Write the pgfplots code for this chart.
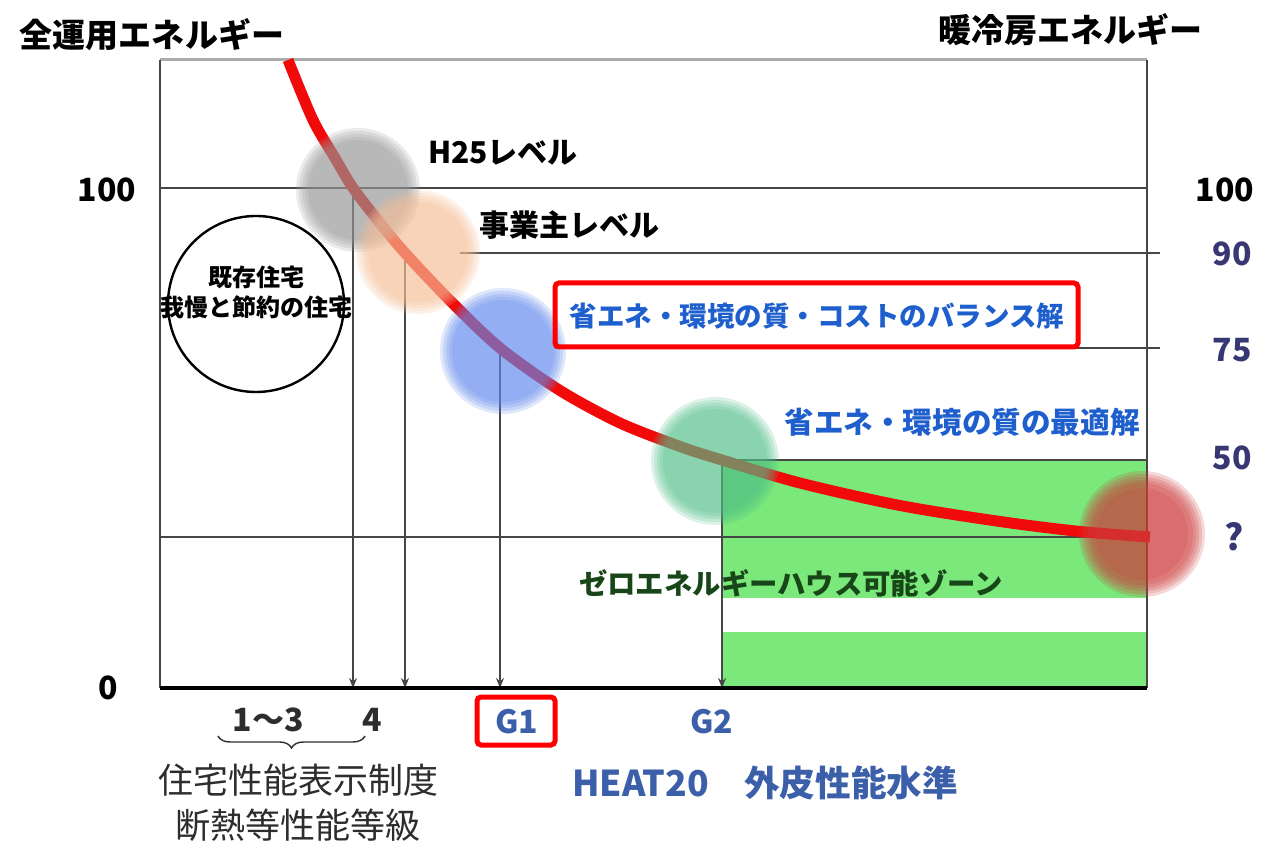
\documentclass[border=0pt]{standalone}
\usepackage{fontspec}
\setmainfont{Noto Sans CJK JP}
\usepackage{pgfplots}
\pgfplotsset{compat=1.18}
\usetikzlibrary{decorations.pathreplacing,arrows.meta}

\definecolor{curvered}{RGB}{240,10,10}
\definecolor{zonegreen}{RGB}{122,232,122}
\definecolor{solblue}{RGB}{30,95,205}
\definecolor{rightnum}{RGB}{55,55,115}
\definecolor{heatblue}{RGB}{60,95,170}
\definecolor{zehgreen}{RGB}{25,70,25}
\definecolor{gridline}{RGB}{70,70,70}
\definecolor{discgray}{RGB}{150,150,150}
\definecolor{discpeach}{RGB}{245,190,150}
\definecolor{discblue}{RGB}{95,135,235}
\definecolor{discteal}{RGB}{80,190,135}
\definecolor{discred}{RGB}{205,60,60}
\definecolor{labelgray}{RGB}{45,45,45}

\newcommand\fs[1]{\fontsize{#1}{#1}\selectfont}

\pgfplotsset{
  disc/.style 2 args={only marks, mark=*, mark size=#2, draw opacity=0,
    mark options={draw=none, draw opacity=0, line width=0pt, fill=#1, fill opacity=0.2}},
  level/.style={gridline, line width=0.9pt},
  drop/.style={gridline, line width=0.9pt, -{Stealth[length=5pt,width=4pt]}},
}

\begin{document}
\begin{tikzpicture}
\begin{axis}[
  width=493.5pt, height=314pt, scale only axis,
  xmin=160, xmax=1147, ymin=0, ymax=125.6,
  axis line style={draw=none},
  xtick=\empty, ytick=\empty,
  clip=false, set layers=standard,
]
% page extent
\path (axis cs:0,-32.4) rectangle (axis cs:1267,137.6);

% zero-energy-house zone
\addplot[fill=zonegreen, draw=none] coordinates {(722,45.6) (1147,45.6) (1147,18) (722,18)} -- cycle;
\addplot[fill=zonegreen, draw=none] coordinates {(722,11.2) (1147,11.2) (1147,0) (722,0)} -- cycle;

% frame
\addplot[gray!65, line width=1.5pt] coordinates {(160,125.6) (1147,125.6)};
\addplot[gridline, line width=1pt] coordinates {(160,0) (160,125.6)};
\addplot[gridline, line width=1pt] coordinates {(1147,0) (1147,125.6)};

% energy levels
\addplot[level] coordinates {(160,100) (1147,100)};
\addplot[level] coordinates {(460,87) (1160,87)};
\addplot[level] coordinates {(555,68) (1160,68)};
\addplot[level] coordinates {(722,45.6) (1147,45.6)};
\addplot[level] coordinates {(160,30.2) (1147,30.2)};

% insulation grades
\addplot[drop] coordinates {(353,100) (353,0)};
\addplot[drop] coordinates {(405,87) (405,0)};
\addplot[drop] coordinates {(500,68) (500,0)};
\addplot[drop] coordinates {(722,45.6) (722,0)};

\addplot[black, line width=1.8pt] coordinates {(160,0) (1147,0)};

% energy vs. insulation curve
\addplot[curvered, line width=5.5pt, smooth] coordinates {
  (288,125.6) (313,113.6) (335,106) (353,100) (380,93) (405,87)
  (450,77.5) (500,68) (560,59.5) (620,53) (680,48.3) (722,45.6)
  (800,41) (900,36.5) (1000,33.3) (1080,31.3) (1150,30.2)};

% performance levels
\pgfplotsinvokeforeach{31,29.5,28,26.5,25}{
  \addplot[disc={discgray}{#1pt}] coordinates {(358,99.6)};}
\pgfplotsinvokeforeach{31,29.5,28,26.5,25}{
  \addplot[disc={discpeach}{#1pt}] coordinates {(418,87.2)};}
\pgfplotsinvokeforeach{31.5,30,28.5,27,25.5}{
  \addplot[disc={discblue}{#1pt}] coordinates {(503,67.4)};}
\pgfplotsinvokeforeach{32,30.5,29,27.5,26}{
  \addplot[disc={discteal}{#1pt}] coordinates {(715,45.4)};}
\pgfplotsinvokeforeach{31.5,30,28.5,27,25.5,23}{
  \addplot[disc={discred}{#1pt}] coordinates {(1142,30.8)};}

% existing houses
\addplot[only marks, mark=*, mark size=44pt,
  mark options={draw=black, fill=white, line width=1.2pt}] coordinates {(256,76.8)};

\begin{pgfonlayer}{axis foreground}
\node[inner sep=0, font=\fs{12}\bfseries] at (axis cs:256,82.2) {既存住宅};
\node[inner sep=0, font=\fs{12}\bfseries] at (axis cs:256,76.2) {我慢と節約の住宅};

% labels
\node[inner sep=0, font=\fs{16.5}\bfseries] at (axis cs:152,130.6) {全運用エネルギー};
\node[inner sep=0, font=\fs{16.5}\bfseries] at (axis cs:1070,131.6) {暖冷房エネルギー};
\node[inner sep=0, font=\fs{15}\bfseries] at (axis cs:503,107) {H25レベル};
\node[inner sep=0, font=\fs{15}\bfseries] at (axis cs:569,92.6) {事業主レベル};
\node[inner sep=0, font=\fs{13.75}\bfseries, text=solblue] at (axis cs:817,74.4) {省エネ・環境の質・コストのバランス解};
\draw[red, line width=2.5pt, rounded corners=2pt] (axis cs:555,81) rectangle (axis cs:1078,68.2);
\node[inner sep=0, font=\fs{14.8}\bfseries, text=solblue] at (axis cs:962,53.2) {省エネ・環境の質の最適解};
\node[inner sep=0, font=\fs{14.2}\bfseries, text=zehgreen] at (axis cs:791,21) {ゼロエネルギーハウス可能ゾーン};

% left scale
\node[inner sep=0, font=\fs{16}\bfseries] at (axis cs:107,99.6) {100};
\node[inner sep=0, font=\fs{16}\bfseries] at (axis cs:108,0) {0};
% right scale
\node[inner sep=0, font=\fs{16}\bfseries] at (axis cs:1225,99.6) {100};
\node[inner sep=0, font=\fs{16}\bfseries, text=rightnum] at (axis cs:1232,86.8) {90};
\node[inner sep=0, font=\fs{16}\bfseries, text=rightnum] at (axis cs:1232,67.6) {75};
\node[inner sep=0, font=\fs{16}\bfseries, text=rightnum] at (axis cs:1232,46) {50};
\node[inner sep=0, font=\fs{18}\bfseries, text=rightnum] at (axis cs:1234,30.2) {?};

% grade labels
\node[inner sep=0, font=\fs{16}\bfseries, text=labelgray] at (axis cs:268,-6.4) {1〜3};
\node[inner sep=0, font=\fs{16}\bfseries, text=labelgray] at (axis cs:372,-6.4) {4};
\node[inner sep=0, font=\fs{16}\bfseries, text=heatblue] at (axis cs:517,-6.8) {G1};
\draw[red, line width=2.5pt, rounded corners=2pt] (axis cs:477,-1.8) rectangle (axis cs:555,-11.4);
\node[inner sep=0, font=\fs{16}\bfseries, text=heatblue] at (axis cs:712,-6.8) {G2};
\draw[labelgray, line width=0.7pt, decorate, decoration={brace, mirror, amplitude=6pt}]
  (axis cs:218,-9.6) -- (axis cs:365,-9.6);
\node[inner sep=0, font=\fs{17.5}, text=labelgray] at (axis cs:298,-18.4) {住宅性能表示制度};
\node[inner sep=0, font=\fs{17.5}, text=labelgray] at (axis cs:298,-27.4) {断熱等性能等級};
\node[inner sep=0, font=\fs{17.8}\bfseries, text=heatblue] at (axis cs:765,-19) {HEAT20　外皮性能水準};
\end{pgfonlayer}
\end{axis}
\end{tikzpicture}
\end{document}
